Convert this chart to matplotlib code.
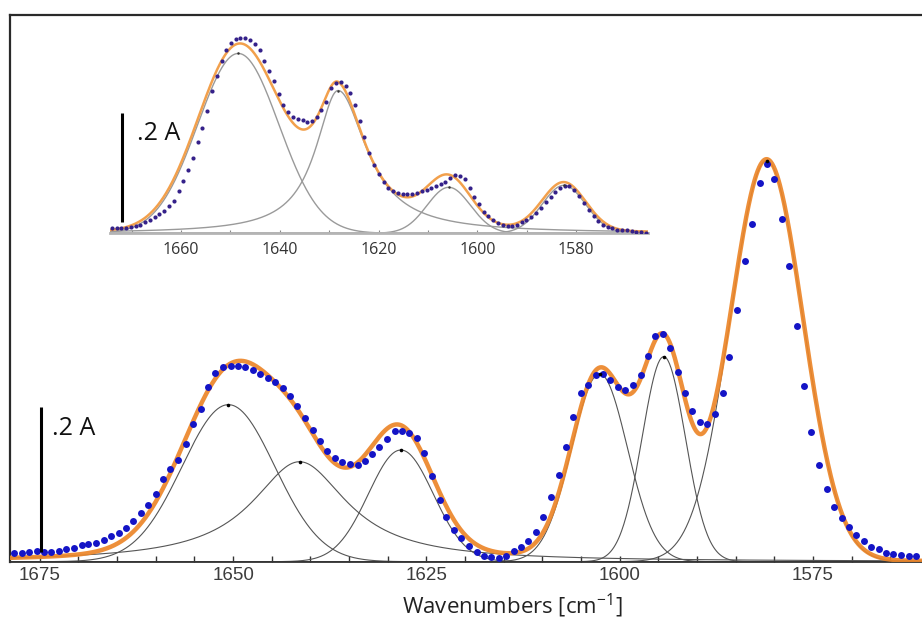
import numpy as np
import matplotlib
matplotlib.use("Agg")
import matplotlib.pyplot as plt
from matplotlib.ticker import MultipleLocator

plt.rcParams["mathtext.fontset"] = "custom"
plt.rcParams["mathtext.rm"] = "Open Sans"
plt.rcParams["mathtext.it"] = "Open Sans:italic"
plt.rcParams["mathtext.bf"] = "Open Sans:bold"

# ---------------- main spectrum: measured points ----------------
main_wn = [
    1678.3, 1677.3, 1676.4, 1675.4, 1674.4, 1673.5, 1672.5, 1671.6, 1670.6, 1669.6,
    1668.7, 1667.7, 1666.7, 1665.8, 1664.8, 1663.8, 1662.9, 1661.9, 1661.0, 1660.0,
    1659.0, 1658.1, 1657.1, 1656.1, 1655.2, 1654.2, 1653.2, 1652.3, 1651.3, 1650.3,
    1649.4, 1648.4, 1647.4, 1646.5, 1645.5, 1644.6, 1643.6, 1642.6, 1641.7, 1640.7,
    1639.7, 1638.8, 1637.8, 1636.8, 1635.9, 1634.9, 1633.9, 1633.0, 1632.0, 1631.1,
    1630.1, 1629.1, 1628.2, 1627.2, 1626.2, 1625.3, 1624.3, 1623.3, 1622.4, 1621.4,
    1620.5, 1619.5, 1618.5, 1617.6, 1616.6, 1615.6, 1614.7, 1613.7, 1612.7, 1611.8,
    1610.8, 1609.9, 1608.9, 1607.9, 1607.0, 1606.0, 1605.0, 1604.1, 1603.1, 1602.1,
    1601.2, 1600.2, 1599.3, 1598.3, 1597.3, 1596.4, 1595.4, 1594.4, 1593.5, 1592.5,
    1591.5, 1590.6, 1589.6, 1588.7, 1587.7, 1586.7, 1585.8, 1584.8, 1583.8, 1582.9,
    1581.9, 1581.0, 1580.0, 1579.0, 1578.1, 1577.1, 1576.1, 1575.2, 1574.2, 1573.2,
    1572.3, 1571.3, 1570.4, 1569.4, 1568.4, 1567.5, 1566.5, 1565.5, 1564.6, 1563.6,
    1562.6, 1561.7,
]
main_abs = [
    0.012, 0.012, 0.014, 0.015, 0.014, 0.014, 0.015, 0.017, 0.019, 0.023,
    0.025, 0.026, 0.030, 0.035, 0.040, 0.047, 0.056, 0.067, 0.078, 0.094,
    0.114, 0.129, 0.141, 0.163, 0.191, 0.212, 0.242, 0.262, 0.269, 0.271,
    0.271, 0.269, 0.265, 0.260, 0.255, 0.249, 0.241, 0.229, 0.215, 0.199,
    0.182, 0.167, 0.154, 0.144, 0.138, 0.135, 0.134, 0.139, 0.149, 0.159,
    0.170, 0.181, 0.181, 0.178, 0.172, 0.150, 0.119, 0.086, 0.062, 0.044,
    0.033, 0.022, 0.013, 0.008, 0.006, 0.005, 0.008, 0.015, 0.021, 0.028,
    0.041, 0.062, 0.090, 0.120, 0.159, 0.201, 0.233, 0.245, 0.259, 0.260,
    0.252, 0.242, 0.238, 0.245, 0.259, 0.285, 0.313, 0.316, 0.296, 0.263,
    0.233, 0.209, 0.193, 0.191, 0.204, 0.233, 0.284, 0.349, 0.416, 0.468,
    0.524, 0.551, 0.530, 0.475, 0.410, 0.327, 0.244, 0.180, 0.134, 0.101,
    0.076, 0.060, 0.048, 0.037, 0.028, 0.021, 0.017, 0.012, 0.010, 0.009,
    0.008, 0.008,
]

# main spectrum: fitted component bands (centre, height, width, shape)
main_centers = [1650.6, 1641.4, 1628.3, 1602.6, 1594.3, 1581.0]
main_heights = [0.2175, 0.1385, 0.1547, 0.2604, 0.2840, 0.5554]
main_widths = [6.0, 7.5, 4.2, 3.6, 2.8, 4.7]
main_widths_right = [6.0, 7.5, 4.2, 3.6, 2.8, 4.7]
main_shapes = ["G", "L", "G", "G", "G", "G"]

# ---------------- inset spectrum: measured points ----------------
inset_wn = [
    1674.0, 1673.0, 1672.1, 1671.1, 1670.1, 1669.2, 1668.2, 1667.3, 1666.3, 1665.3,
    1664.4, 1663.4, 1662.4, 1661.5, 1660.5, 1659.5, 1658.6, 1657.6, 1656.6, 1655.7,
    1654.7, 1653.7, 1652.8, 1651.8, 1650.9, 1649.9, 1648.9, 1648.0, 1647.0, 1646.0,
    1645.1, 1644.1, 1643.1, 1642.2, 1641.2, 1640.2, 1639.3, 1638.3, 1637.4, 1636.4,
    1635.4, 1634.5, 1633.5, 1632.5, 1631.6, 1630.6, 1629.6, 1628.7, 1627.7, 1626.7,
    1625.8, 1624.8, 1623.8, 1622.9, 1621.9, 1620.9, 1620.0, 1619.0, 1618.0, 1617.1,
    1616.1, 1615.1, 1614.2, 1613.2, 1612.2, 1611.3, 1610.3, 1609.4, 1608.4, 1607.4,
    1606.5, 1605.5, 1604.5, 1603.6, 1602.6, 1601.6, 1600.7, 1599.7, 1598.7, 1597.8,
    1596.8, 1595.8, 1594.9, 1593.9, 1592.9, 1592.0, 1591.0, 1590.1, 1589.1, 1588.1,
    1587.2, 1586.2, 1585.2, 1584.3, 1583.3, 1582.3, 1581.4, 1580.4, 1579.4, 1578.5,
    1577.5, 1576.5, 1575.6, 1574.6, 1573.6, 1572.7, 1571.7, 1570.7, 1569.8, 1568.8,
    1567.8, 1566.9, 1565.9,
]
inset_abs = [
    0.009, 0.009, 0.010, 0.010, 0.012, 0.013, 0.016, 0.020, 0.024, 0.029,
    0.035, 0.041, 0.050, 0.060, 0.077, 0.096, 0.116, 0.139, 0.167, 0.193,
    0.224, 0.261, 0.289, 0.316, 0.336, 0.350, 0.357, 0.359, 0.359, 0.355,
    0.348, 0.336, 0.317, 0.297, 0.279, 0.255, 0.235, 0.222, 0.213, 0.209,
    0.207, 0.205, 0.206, 0.213, 0.226, 0.241, 0.266, 0.276, 0.278, 0.271,
    0.257, 0.236, 0.206, 0.177, 0.148, 0.125, 0.108, 0.095, 0.083, 0.077,
    0.074, 0.073, 0.072, 0.073, 0.074, 0.077, 0.080, 0.083, 0.087, 0.090,
    0.095, 0.102, 0.107, 0.106, 0.099, 0.083, 0.067, 0.053, 0.040, 0.032,
    0.024, 0.018, 0.015, 0.013, 0.014, 0.016, 0.020, 0.024, 0.030, 0.038,
    0.047, 0.057, 0.067, 0.076, 0.083, 0.087, 0.086, 0.080, 0.068, 0.056,
    0.042, 0.031, 0.023, 0.016, 0.012, 0.009, 0.006, 0.006, 0.006, 0.005,
    0.003, 0.002, 0.001,
]

# inset: fitted component bands (width on high- and low-wavenumber side)
inset_centers = [1648.4, 1628.2, 1605.8, 1582.5]
inset_heights = [0.330, 0.262, 0.0844, 0.0880]
inset_widths = [8.2, 5.5, 4.4, 4.4]
inset_widths_right = [8.2, 7.0, 4.4, 4.4]
inset_shapes = ["G", "L", "G", "G"]

main_ticks = [1675, 1650, 1625, 1600, 1575]
inset_ticks = [1660, 1640, 1620, 1600, 1580]
scale_label = ".2 A"
x_label = "Wavenumbers [cm$^{-1}$]"


def band(x, c, h, wl, wr, shape):
    # wl: width on the high-wavenumber side, wr: on the low-wavenumber side
    w = np.where(x >= c, wl, wr)
    if shape == "L":
        return h / (1.0 + ((x - c) / w) ** 2)
    return h * np.exp(-((x - c) ** 2) / (2.0 * w ** 2))


W, H = 922, 619
fig = plt.figure(figsize=(W / 100, H / 100), dpi=100)

# ---------------- main axes ----------------
ax_l, ax_r, ax_top, ax_bot = 10, 922, 15, 561.7
ax = fig.add_axes([ax_l / W, (H - ax_bot) / H, (ax_r - ax_l) / W, (ax_bot - ax_top) / H])
ax.set_xlim(1678.85, 1560.9)
ax.set_ylim(0, (ax_bot - ax_top) / 722.0)

xg = np.linspace(1678.85, 1560.9, 1200)
total = np.zeros_like(xg)
for c, h, wl, wr, s in zip(main_centers, main_heights, main_widths, main_widths_right,
                           main_shapes):
    y = band(xg, c, h, wl, wr, s)
    total += y
    ax.plot(xg, y, color="#555555", lw=0.8, zorder=2)
ax.plot(xg, total, color="#ec8629", lw=3.2, alpha=0.92, zorder=3, solid_capstyle="round")
ax.plot(main_wn, main_abs, "o", color="#1414c6", ms=5.0, mew=0, zorder=4)
ax.plot(main_centers, main_heights, "o", color="black", ms=2.6, mew=0, zorder=5)

# scale bar
ax.plot([1674.9, 1674.9], [0.0139, 0.2139], color="black", lw=2.2, zorder=6,
        solid_capstyle="butt")
ax.text(1673.4, 0.185, scale_label, fontsize=18, family="Open Sans", color="#111111",
        ha="left", va="center")

ax.spines["right"].set_visible(False)
ax.spines["top"].set_color("#2a2a2a")
ax.spines["top"].set_linewidth(1.6)
ax.spines["left"].set_color("#2a2a2a")
ax.spines["left"].set_linewidth(1.6)
ax.spines["bottom"].set_color("#333333")
ax.spines["bottom"].set_linewidth(1.3)
ax.set_yticks([])
ax.set_xticks(main_ticks)
ax.xaxis.set_minor_locator(MultipleLocator(5))
ax.tick_params(axis="x", which="both", direction="in", length=4.5, width=1.0,
               color="#333333", pad=4)
ax.tick_params(axis="x", which="major", labelsize=13.5, labelcolor="#3c3c3c")
for lab in ax.get_xticklabels():
    lab.set_family("Liberation Sans")

fig.text(512.5 / W, (H - 613.5) / H, x_label, fontsize=16, family="Open Sans",
         color="#222222", ha="center", va="baseline")

# ---------------- inset axes ----------------
in_l, in_r, in_top, in_bot = 110, 648, 20, 233.3
axi = fig.add_axes([in_l / W, (H - in_bot) / H, (in_r - in_l) / W, (in_bot - in_top) / H])
axi.set_facecolor("none")
axi.set_xlim(1674.37, 1565.47)
axi.set_ylim(0, (in_bot - in_top) / 545.0)

xi = np.linspace(1674.37, 1565.47, 1000)
tot_i = np.zeros_like(xi)
for c, h, wl, wr, s in zip(inset_centers, inset_heights, inset_widths, inset_widths_right,
                           inset_shapes):
    y = band(xi, c, h, wl, wr, s)
    tot_i += y
    axi.plot(xi, y, color="#9a9a9a", lw=1.0, zorder=2)
axi.plot(xi, tot_i, color="#f2a04c", lw=1.8, zorder=3)
axi.plot(inset_wn, inset_abs, "o", color="#35218a", ms=3.0, mew=0, zorder=4)
axi.plot(inset_centers, inset_heights, "o", color="#333333", ms=1.8, mew=0, zorder=5)

axi.plot([1671.9, 1671.9], [0.0207, 0.2207], color="black", lw=2.2, zorder=6,
         solid_capstyle="butt")
axi.text(1668.9, 0.184, scale_label, fontsize=18, family="Open Sans", color="#111111",
         ha="left", va="center")

for side in ("top", "right", "left"):
    axi.spines[side].set_visible(False)
axi.spines["bottom"].set_color("#b4b4b4")
axi.spines["bottom"].set_linewidth(2.0)
axi.set_yticks([])
axi.set_xticks(inset_ticks)
axi.xaxis.set_minor_locator(MultipleLocator(10))
axi.tick_params(axis="x", which="both", direction="in", length=2.5, width=0.8,
                color="#888888", pad=6)
axi.tick_params(axis="x", which="major", labelsize=11.5, labelcolor="#333333")
for lab in axi.get_xticklabels():
    lab.set_family("Open Sans")

fig.savefig("out.png", dpi=100)
